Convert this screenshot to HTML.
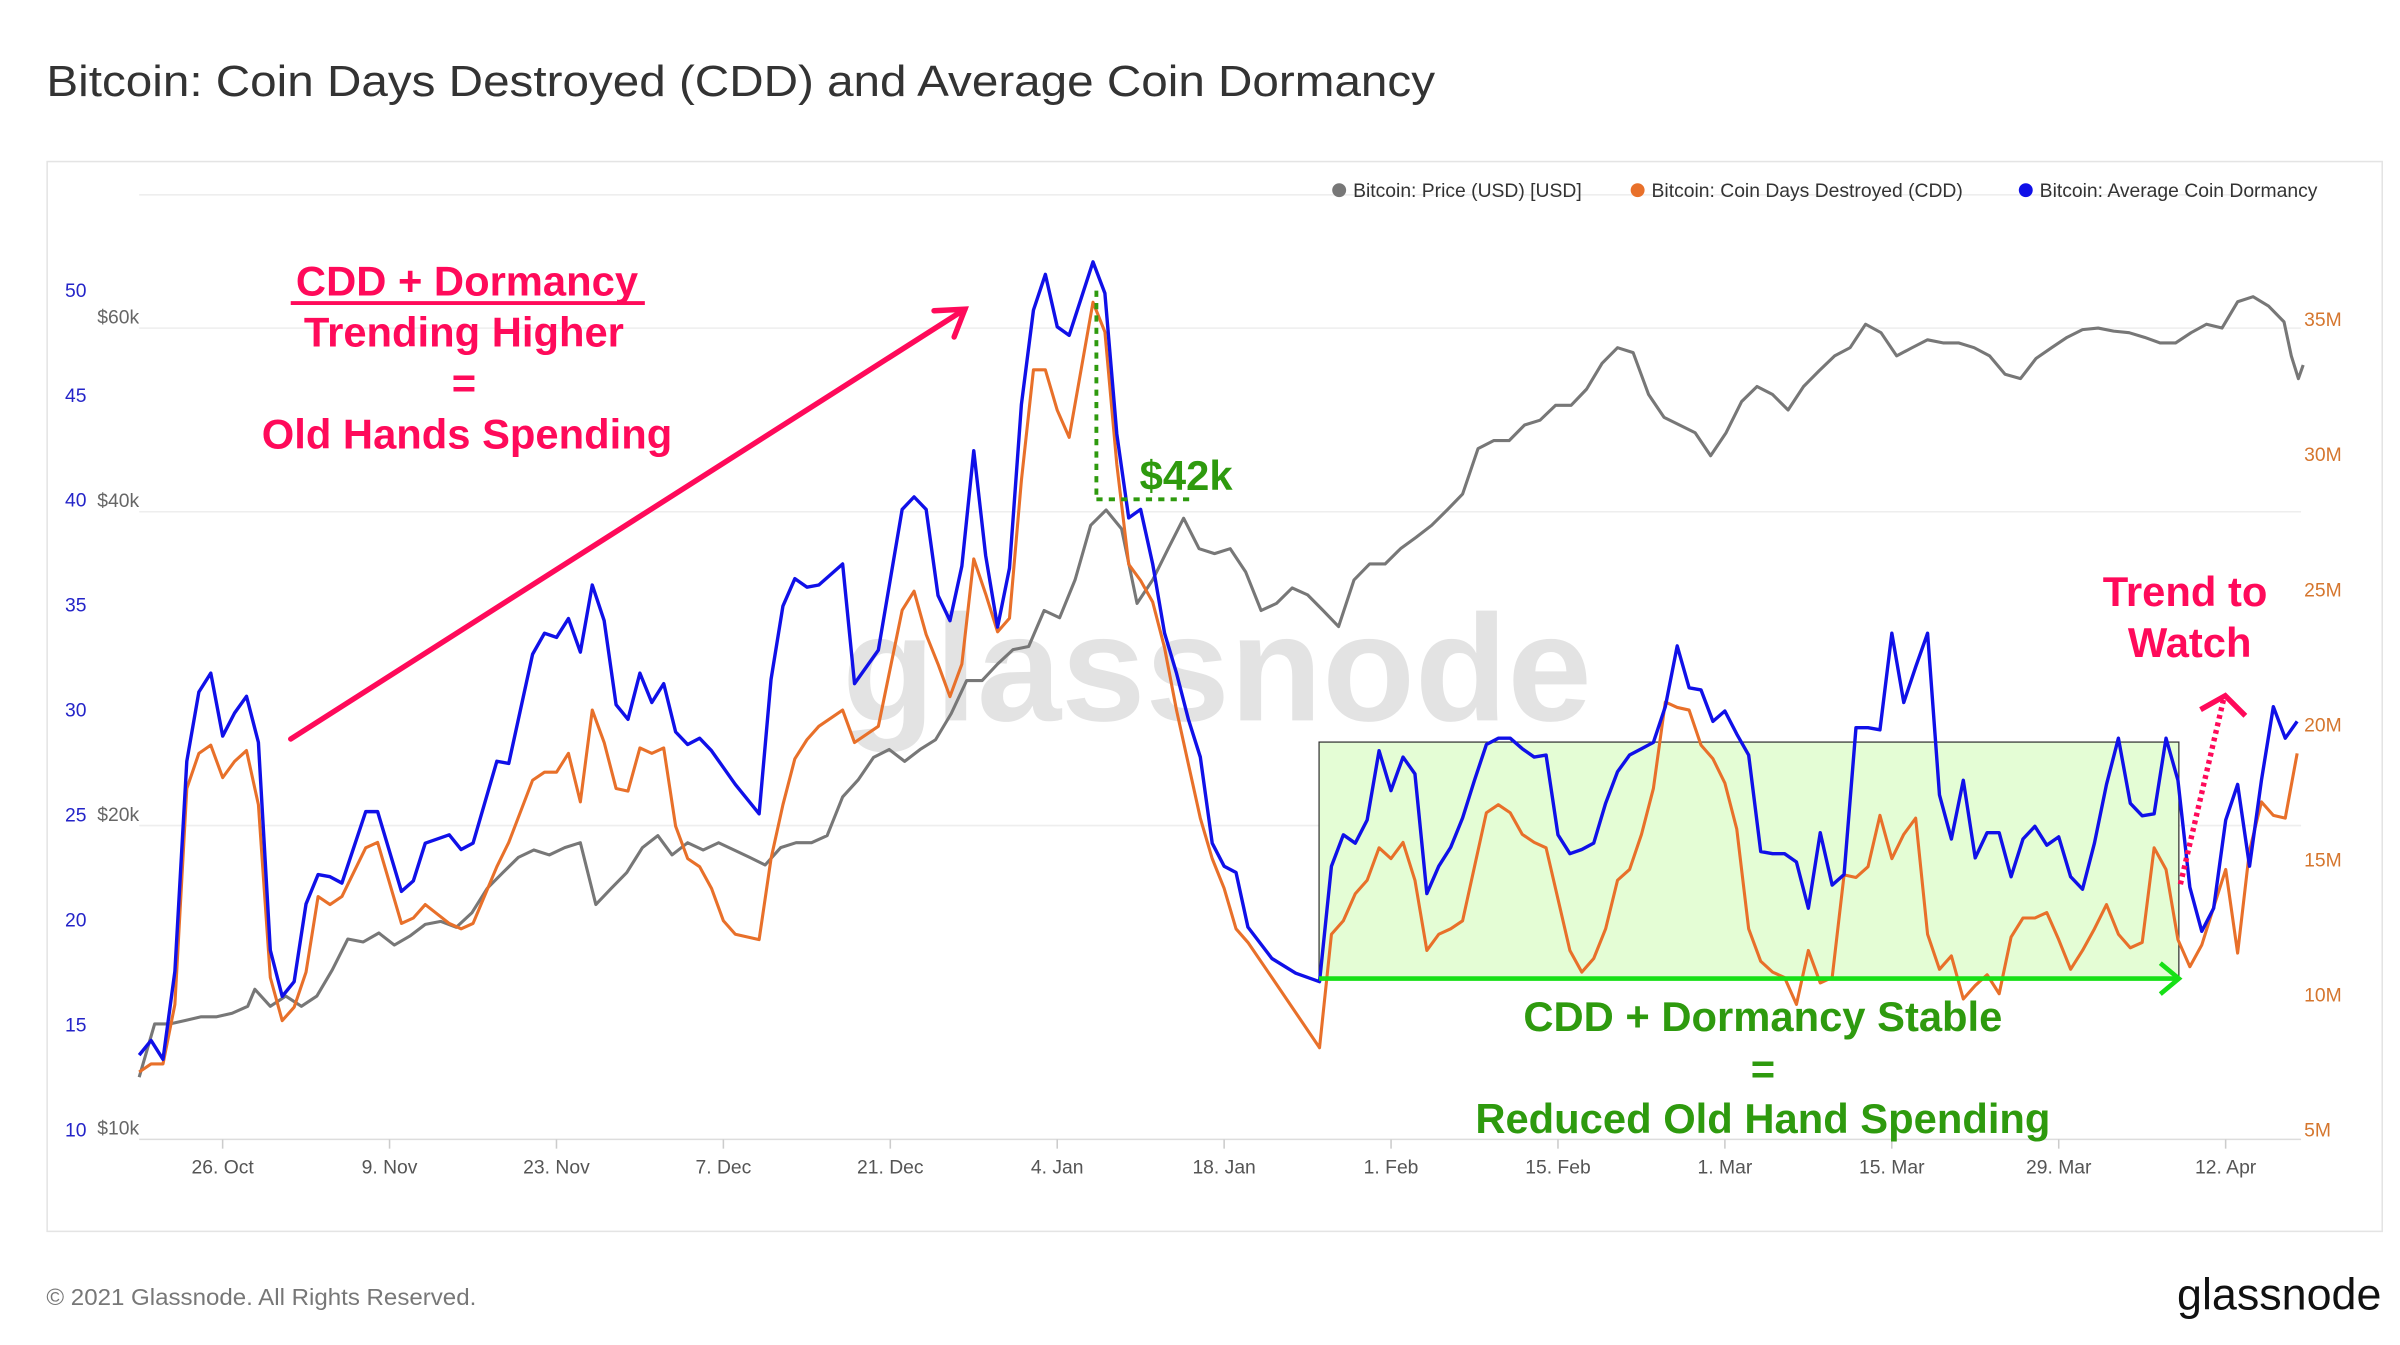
<!DOCTYPE html>
<html><head><meta charset="utf-8"><title>Bitcoin CDD and Dormancy</title>
<style>
html,body{margin:0;padding:0;background:#fff;}
svg{display:block;font-family:"Liberation Sans",sans-serif;}
</style></head>
<body>
<svg id="chart" width="2400" height="1345" viewBox="0 0 1552 870" preserveAspectRatio="none" xmlns="http://www.w3.org/2000/svg">
<rect x="0" y="0" width="1552" height="870" fill="#fff"/>
<text x="30" y="62" font-size="28" fill="#333" textLength="898" lengthAdjust="spacingAndGlyphs">Bitcoin: Coin Days Destroyed (CDD) and Average Coin Dormancy</text>
<rect x="30.5" y="104.5" width="1510" height="692" fill="none" stroke="#e4e4e4"/>
<g id="grid"></g>
<text x="787" y="466" font-size="98" fill="#000" fill-opacity="0.11" text-anchor="middle" font-weight="bold">glassnode</text>
<rect x="853" y="480" width="556" height="153" fill="#e4fdd5" stroke="#333" stroke-width="0.8"/>
<g id="axes"></g>
<g id="series"></g>
<g font-size="12.5" fill="#333">
  <g><circle cx="866" cy="123" r="4.5" fill="#777"/><text x="875" y="127.5">Bitcoin: Price (USD) [USD]</text></g>
  <g><circle cx="1059" cy="123" r="4.5" fill="#e8702a"/><text x="1068" y="127.5">Bitcoin: Coin Days Destroyed (CDD)</text></g>
  <g><circle cx="1310" cy="123" r="4.5" fill="#1010e8"/><text x="1319" y="127.5">Bitcoin: Average Coin Dormancy</text></g>
</g>
<g fill="#ff0a5a" font-weight="bold" font-size="27" text-anchor="middle">
  <text x="302" y="191">CDD + Dormancy</text>
  <line x1="188" y1="196" x2="417" y2="196" stroke="#ff0a5a" stroke-width="2.5"/>
  <text x="300" y="224">Trending Higher</text>
  <text x="300" y="257">=</text>
  <text x="302" y="290">Old Hands Spending</text>
</g>
<g stroke="#ff0a5a" stroke-width="3.5" fill="none" stroke-linecap="round">
  <line x1="188" y1="478" x2="624" y2="200"/>
  <polyline points="604,201 624,200 617,218"/>
</g>
<g>
  <line x1="709" y1="188" x2="709" y2="323" stroke="#2e9a0e" stroke-width="2.5" stroke-dasharray="4,4"/>
  <line x1="709" y1="323" x2="772" y2="323" stroke="#2e9a0e" stroke-width="2.5" stroke-dasharray="4,4"/>
  <text x="737" y="317" font-size="27" font-weight="bold" fill="#2e9a0e">$42k</text>
</g>
<g stroke="#16e016" stroke-width="3" fill="none">
  <line x1="853" y1="633" x2="1408" y2="633"/>
  <polyline points="1397,623 1409,633 1397,643"/>
</g>
<g fill="#2e9a0e" font-weight="bold" font-size="27" text-anchor="middle">
  <text x="1140" y="667">CDD + Dormancy Stable</text>
  <text x="1140" y="701">=</text>
  <text x="1140" y="733">Reduced Old Hand Spending</text>
</g>
<g fill="#ff0a5a" font-weight="bold" font-size="27" text-anchor="middle">
  <text x="1413" y="392">Trend to</text>
  <text x="1416" y="425">Watch</text>
</g>
<g stroke="#ff0a5a" stroke-width="3.5" fill="none">
  <line x1="1410" y1="572" x2="1438" y2="452" stroke-dasharray="2.5,2.5"/>
  <polyline points="1423,459 1439,450 1452,463"/>
</g>
<text x="30" y="844" font-size="15" fill="#777" textLength="278" lengthAdjust="spacingAndGlyphs">© 2021 Glassnode. All Rights Reserved.</text>
<text x="1540" y="847" font-size="29" fill="#111" text-anchor="end">glassnode</text>
</svg>
<script>
const xTickLabels = ["26. Oct","9. Nov","23. Nov","7. Dec","21. Dec","4. Jan","18. Jan","1. Feb","15. Feb","1. Mar","15. Mar","29. Mar","12. Apr"];
const xTickDays = [7,21,35,49,63,77,91,105,119,133,147,161,175];
const dormTicks = [10,15,20,25,30,35,40,45,50];
const priceTicks = [10000,20000,40000,60000];
const priceTickLabels = ["$10k","$20k","$40k","$60k"];
const cddTicks = [5,10,15,20,25,30,35];
const cddTickLabels = ["5M","10M","15M","20M","25M","30M","35M"];

const dormDays = [0,1,2,3,4,5,6,7,8,9,10,11,12,13,14,15,16,17,19,20,22,23,24,26,27,28,30,31,33,34,35,36,37,38,39,40,41,42,43,44,45,46,47,48,49,50,52,53,54,55,56,57,59,60,62,64,65,66,67,68,69,70,71,72,73,74,75,76,77,78,80,81,82,83,84,85,86,87,88,89,90,91,92,93,95,97,99,100,101,102,103,104,105,106,107,108,109,110,111,112,113,114,115,116,117,118,119,120,121,122,123,124,125,126,127,128,129,130,131,132,133,134,135,136,137,138,139,140,141,142,143,144,145,146,147,148,149,150,151,152,153,154,155,156,157,158,159,160,161,162,163,164,165,166,167,168,169,170,171,172,173,174,175,176,177,178,179,180,181];
const dormValues = [13.5,14.2,13.3,17.5,27.5,30.8,31.7,28.7,29.8,30.6,28.4,18.5,16.3,17.0,20.7,22.1,22.0,21.7,25.1,25.1,21.3,21.8,23.6,24.0,23.3,23.6,27.5,27.4,32.6,33.6,33.4,34.3,32.7,35.9,34.2,30.2,29.5,31.7,30.3,31.2,28.9,28.3,28.6,28.0,27.2,26.4,25.0,31.4,34.9,36.2,35.8,35.9,36.9,31.2,32.8,39.5,40.1,39.5,35.4,34.2,36.8,42.3,37.3,33.9,36.7,44.5,49.0,50.7,48.2,47.8,51.3,49.8,43.1,39.1,39.5,36.9,33.6,31.7,29.5,27.7,23.6,22.5,22.2,19.6,18.1,17.4,17.0,22.5,24.0,23.6,24.7,28.0,26.1,27.7,26.9,21.2,22.5,23.4,24.8,26.6,28.3,28.6,28.6,28.1,27.7,27.8,24.0,23.1,23.3,23.6,25.5,27.0,27.8,28.1,28.4,30.1,33.0,31.0,30.9,29.4,29.9,28.8,27.8,23.2,23.1,23.1,22.7,20.5,24.1,21.6,22.1,29.1,29.1,29.0,33.6,30.3,32.0,33.6,25.9,23.8,26.6,22.9,24.1,24.1,22.0,23.8,24.4,23.5,23.9,22.0,21.4,23.6,26.4,28.6,25.5,24.9,25.0,28.6,26.6,21.5,19.4,20.5,24.7,26.4,22.5,26.6,30.1,28.6,29.4,28.9];

const cddDays = dormDays;
const cddValues = [7.1,7.4,7.4,9.6,17.6,18.9,19.2,18.0,18.6,19.0,17.0,10.6,9.0,9.5,10.8,13.6,13.3,13.6,15.4,15.6,12.6,12.8,13.3,12.6,12.4,12.6,14.7,15.6,17.9,18.2,18.2,18.9,17.1,20.5,19.3,17.6,17.5,19.1,18.9,19.1,16.2,15.0,14.7,13.9,12.7,12.2,12.0,15.0,17.0,18.7,19.4,19.9,20.5,19.3,19.9,24.2,24.9,23.3,22.2,21.0,22.2,26.1,24.8,23.4,23.9,29.0,33.1,33.1,31.6,30.6,35.6,34.5,29.6,25.9,25.3,24.5,22.8,20.5,18.5,16.5,15.0,13.9,12.4,11.9,10.6,9.3,8.0,12.2,12.7,13.7,14.2,15.4,15.0,15.6,14.2,11.6,12.2,12.4,12.7,14.7,16.7,17.0,16.7,15.9,15.6,15.4,13.5,11.6,10.8,11.3,12.4,14.2,14.6,15.9,17.6,20.8,20.6,20.5,19.2,18.7,17.8,16.1,12.4,11.2,10.8,10.6,9.6,11.6,10.4,10.6,14.4,14.3,14.7,16.6,15.0,15.9,16.5,12.2,10.9,11.4,9.8,10.3,10.7,10.0,12.1,12.8,12.8,13.0,12.0,10.9,11.6,12.4,13.3,12.2,11.7,11.9,15.4,14.6,12.0,11.0,11.8,13.2,14.6,11.5,15.3,17.1,16.6,16.5,18.9];

const priceDays = [0,1.3,2.6,3.9,5.2,6.5,7.8,9.1,9.7,11.0,12.3,13.6,14.9,16.2,17.5,18.8,20.1,21.4,22.7,24.0,25.3,26.6,27.9,29.2,30.5,31.8,33.1,34.4,35.7,37.0,38.3,39.6,40.9,42.2,43.5,44.7,46.0,47.3,48.6,49.9,51.2,52.5,53.8,55.1,56.4,57.7,59.0,60.3,61.6,62.9,64.2,65.5,66.8,68.1,69.4,70.7,72.0,73.3,74.6,75.9,77.2,78.5,79.8,81.1,82.4,83.7,85.0,86.3,87.6,88.9,90.2,91.5,92.8,94.1,95.4,96.7,98.0,99.3,100.6,101.9,103.2,104.5,105.8,107.1,108.4,109.7,111.0,112.3,113.6,114.9,116.2,117.5,118.8,120.1,121.4,122.7,124.0,125.3,126.6,127.9,129.2,130.5,131.8,133.1,134.4,135.7,137.0,138.3,139.6,140.9,142.2,143.5,144.8,146.1,147.4,148.7,150.0,151.3,152.6,153.9,155.2,156.5,157.8,159.1,160.4,161.7,163.0,164.3,165.6,166.9,168.2,169.5,170.8,172.1,173.4,174.7,176.0,177.3,178.6,179.9,180.5,181.1,181.5];
const priceValues = [11200,12600,12600,12700,12800,12800,12900,13100,13600,13100,13400,13100,13400,14200,15200,15100,15400,15000,15300,15700,15800,15600,16100,17000,17600,18200,18500,18300,18600,18800,16400,17000,17600,18600,19100,18300,18800,18500,18800,18500,18200,17900,18600,18800,18800,19100,20800,21600,22700,23100,22500,23100,23600,25000,26900,26900,27900,28800,29000,31400,30900,33600,37900,39200,37600,31900,33600,36000,38500,36000,35600,36000,34200,31400,31900,33000,32500,31400,30300,33600,34800,34800,36000,36900,37900,39200,40600,44900,45700,45700,47300,47800,49400,49400,51200,54200,56100,55500,50600,48100,47300,46500,44200,46500,49800,51500,50600,48900,51500,53300,55100,56100,59100,58000,55100,56100,57100,56700,56700,56100,55100,52900,52400,54800,56100,57400,58400,58600,58200,58000,57400,56700,56700,58000,59100,58600,62100,62800,61500,59400,55100,52400,54000];

const NS = "http://www.w3.org/2000/svg";
const X0 = 90, DAYW = 7.71;
function xScale(d){ return X0 + d*DAYW; }
function dormY(v){ return 187 + (50 - v)*13.575; }
function cddY(v){ return 206 + (35 - v)*17.47; }
function priceY(p){ return 730 - 203*Math.log2(p/10000); }
function mk(tag, attrs, parent){
  const el = document.createElementNS(NS, tag);
  for (const k in attrs) el.setAttribute(k, attrs[k]);
  parent.appendChild(el);
  return el;
}
const grid = document.getElementById('grid');
const axes = document.getElementById('axes');
const series = document.getElementById('series');

let gl = mk('line',{x1:90,x2:1488,y1:126,y2:126,stroke:'#eeeeee','stroke-width':1},grid);


priceTicks.forEach((p,i)=>{
  const y = priceY(p)+7;
  const l = mk('line',{x1:90,x2:1488,y1:y,y2:y,stroke: i===0?'#dddddd':'#eeeeee','stroke-width':1},grid);
  
  
  const t = mk('text',{x:90,y:y-3,'font-size':12.5,fill:'#666','text-anchor':'end'},axes);
  t.textContent = priceTickLabels[i];
  
  
});
dormTicks.forEach(v=>{
  const t = mk('text',{x:42,y:dormY(v)+5,'font-size':12.5,fill:'#2424c8'},axes);
  t.textContent = String(v);
  
  
});
cddTicks.forEach((v,i)=>{
  const t = mk('text',{x:1490,y:cddY(v)+5,'font-size':12.5,fill:'#d5762e'},axes);
  t.textContent = cddTickLabels[i];
  
  
});
xTickDays.forEach((d,i)=>{
  const x = xScale(d);
  const tk = mk('line',{x1:x,x2:x,y1:737,y2:743,stroke:'#ccc'},axes);
  
  
  const t = mk('text',{x:x,y:759,'font-size':12.5,fill:'#555','text-anchor':'middle'},axes);
  t.textContent = xTickLabels[i];
  
  
});

function pathFrom(days, vals, yf){
  return days.map((d,i)=>(i?'L':'M')+xScale(d).toFixed(1)+','+yf(vals[i]).toFixed(1)).join(' ');
}
const pp = mk('path',{d:pathFrom(priceDays,priceValues,priceY),fill:'none',stroke:'#777','stroke-width':2,'stroke-linejoin':'round'},series);


const cp = mk('path',{d:pathFrom(cddDays,cddValues,cddY),fill:'none',stroke:'#e8702a','stroke-width':2,'stroke-linejoin':'round'},series);


const dp = mk('path',{d:pathFrom(dormDays,dormValues,dormY),fill:'none',stroke:'#1010e8','stroke-width':2.2,'stroke-linejoin':'round'},series);


</script>
</body></html>
